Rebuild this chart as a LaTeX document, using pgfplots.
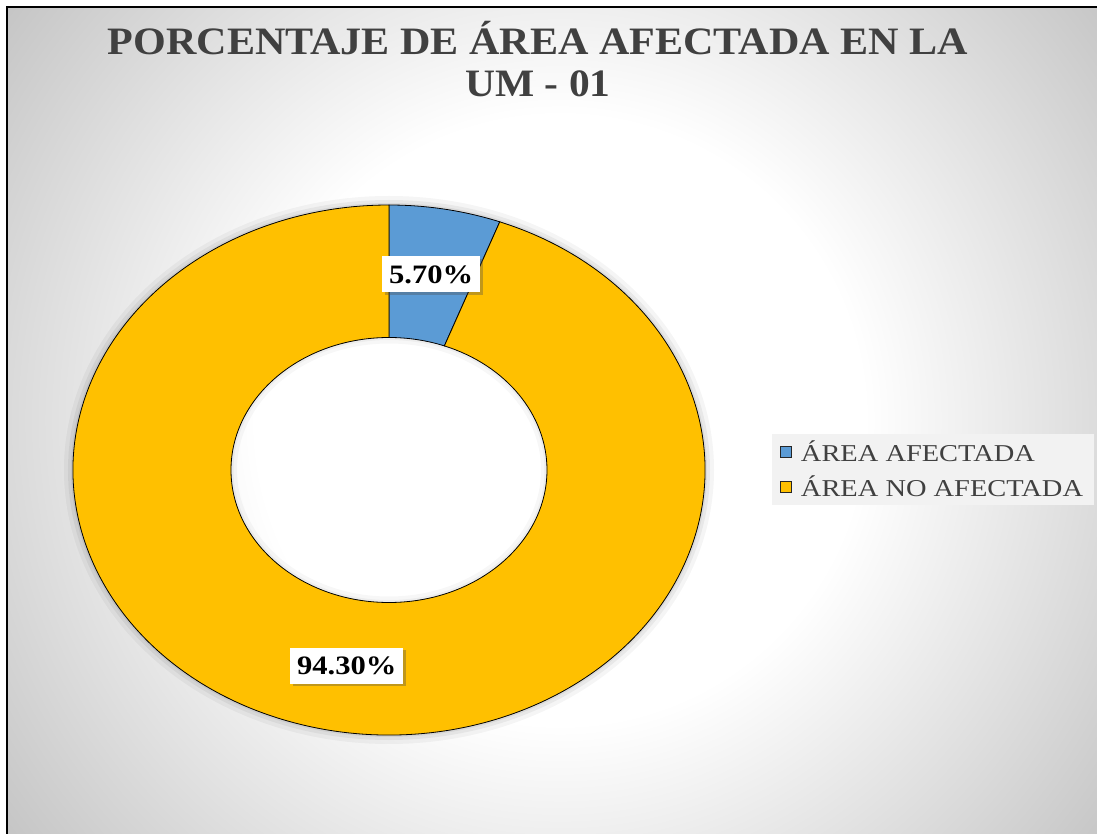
\documentclass[border=0pt]{standalone}
\usepackage{pgfplots}
\pgfplotsset{compat=1.18}
\usepackage{pgfplotstable}
\usepackage{graphicx}
\usepackage{fontspec}
\setmainfont{Liberation Serif}
\usetikzlibrary{shadows}

\definecolor{afect}{HTML}{5B9BD5}
\definecolor{noafect}{HTML}{FFC000}
\definecolor{txtgrey}{HTML}{404040}
\definecolor{bggrey}{HTML}{C4C4C4}
\definecolor{legbg}{HTML}{F2F2F2}

% 25bp corresponde al borde del camino sombreado
\pgfdeclareradialshading{fondo}{\pgfpoint{0bp}{0bp}}{%
  color(0bp)=(white); color(10bp)=(white); color(23bp)=(bggrey); color(50bp)=(bggrey)}

% porcentaje de cada parte
\pgfplotstableread{
id pct
1 5.70
2 94.30
}\datos
\pgfplotstablegetelem{0}{pct}\of\datos \let\pA\pgfplotsretval
\pgfplotstablegetelem{1}{pct}\of\datos \let\pB\pgfplotsretval
\pgfmathsetmacro\aA{90-3.6*\pA}
\pgfmathsetmacro\aB{\aA-3.6*\pB}
\pgfmathsetmacro\mA{(90+\aA)/2}
\pgfmathsetmacro\mB{(\aA+\aB)/2}

\newcommand\segmento[3]{%
  \filldraw[fill=#1, draw=black, line width=0.8bp]
    (axis cs:{cos(#2)},{sin(#2)}) arc[start angle=#2, end angle=#3, radius=1]
    -- (axis cs:{0.5*cos(#3)},{0.5*sin(#3)}) arc[start angle=#3, end angle=#2, radius=0.5]
    -- cycle;}

\tikzset{etiqueta/.style={fill=white, text=black, inner xsep=7bp, inner ysep=0bp,
  minimum height=36bp, font=\fontsize{26.6bp}{30bp}\selectfont\bfseries,
  drop shadow={shadow xshift=2.5bp, shadow yshift=-2.5bp, opacity=0.35, fill=black!70}}}

\begin{document}
\begin{tikzpicture}
\fill[white] (0,0) rectangle (1097bp,834bp);
\begin{scope}
  \clip (7bp,0) rectangle (1097bp,827bp);
  \shade[shading=fondo] (-200bp,-346bp) rectangle (1320bp,1174bp);
\end{scope}
\draw[line width=1.6bp, black] (7bp,0) -- (7bp,827bp) -- (1097bp,827bp);

\node[anchor=base, text=txtgrey, font=\fontsize{38.8bp}{42bp}\selectfont\bfseries]
  at (538bp,779bp) {\scalebox{1.085}[1]{PORCENTAJE DE ÁREA AFECTADA EN LA}};
\node[anchor=base, text=txtgrey, font=\fontsize{38.8bp}{42bp}\selectfont\bfseries]
  at (538bp,737bp) {\scalebox{1.07}[1]{UM - 01}};

\begin{axis}[
  hide axis, scale only axis, disabledatascaling, clip=false,
  width=632bp, height=530bp,
  at={(389bp,364bp)}, anchor=origin,
  xmin=-1, xmax=1, ymin=-1, ymax=1,
  legend style={at={(1.106,0.568)}, anchor=north west, fill=legbg, draw=none,
    text=txtgrey, font=\fontsize{24.2bp}{28bp}\selectfont,
    inner xsep=8bp, inner ysep=7bp, row sep=13bp,
    nodes={text height=20bp, text depth=2bp, inner xsep=3bp, inner ysep=0bp},
    /tikz/every odd column/.append style={column sep=6bp}},
  legend cell align=left,
  legend image code/.code={\filldraw[#1, draw=black!85, line width=0.8bp] (0bp,-5.5bp) rectangle (11bp,5.5bp);},
]
% sombra suave
\draw[black, opacity=0.04, line width=18bp] (axis cs:0,0) circle[radius=1];
\draw[black, opacity=0.05, line width=10bp] (axis cs:0,0) circle[radius=1];
\draw[black, opacity=0.06, line width=4bp] (axis cs:0,0) circle[radius=1];
\draw[black, opacity=0.03, line width=12bp] (axis cs:0,0) circle[radius=0.5];
\draw[black, opacity=0.04, line width=5bp] (axis cs:0,0) circle[radius=0.5];

\segmento{afect}{90}{\aA}
\segmento{noafect}{\aA}{\aB}

\node[etiqueta] at (axis cs:{0.75*cos(\mA)},{0.75*sin(\mA)}) {\scalebox{1.15}[1]{\pA\%}};
\node[etiqueta] at (axis cs:{0.75*cos(\mB)},{0.75*sin(\mB)}) {\scalebox{1.15}[1]{\pB\%}};

\addlegendimage{fill=afect}
\addlegendentry{\scalebox{1.175}[1]{ÁREA AFECTADA}}
\addlegendimage{fill=noafect}
\addlegendentry{\scalebox{1.175}[1]{ÁREA NO AFECTADA}}
\end{axis}
\pgfresetboundingbox
\path[use as bounding box] (0,0) rectangle (1097bp,834bp);
\end{tikzpicture}
\end{document}
